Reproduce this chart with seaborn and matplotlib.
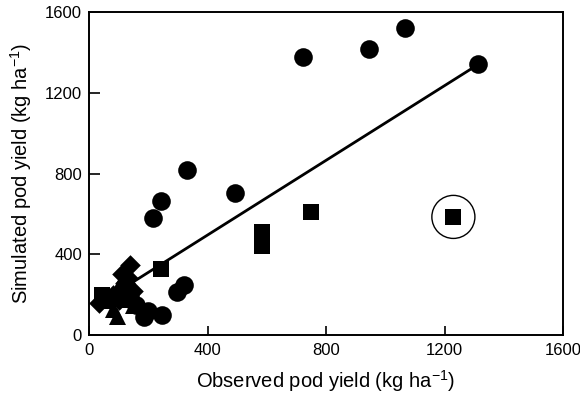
import numpy as np
import pandas as pd
import matplotlib
matplotlib.use("Agg")
import matplotlib.pyplot as plt
import seaborn as sns

# Data
circle_x = [216, 243, 330, 492, 724, 946, 1068, 1314, 185, 246, 160, 200, 296, 320, 140]
circle_y = [580, 665, 815, 705, 1375, 1415, 1520, 1340, 90, 100, 150, 120, 215, 250, 190]
square_x = [45, 60, 242, 583, 583, 748, 1230]
square_y = [200, 170, 325, 510, 440, 610, 585]
diamond_x = [140, 110, 120, 35, 80, 150, 100, 130]
diamond_y = [345, 300, 260, 160, 200, 220, 175, 280]
triangle_x = [95, 120, 150, 100, 80]
triangle_y = [95, 180, 150, 250, 130]
highlight_x = [1230]
highlight_y = [585]
fit_x = [40, 1320]
fit_slope = 0.925
fit_intercept = 125
ticks = [0, 400, 800, 1200, 1600]

sns.set_style("ticks")
plt.rcParams['font.family'] = ['Liberation Sans', 'DejaVu Sans']
plt.rcParams['mathtext.fontset'] = 'custom'
plt.rcParams['mathtext.rm'] = 'Liberation Sans'
for k in ['text.color', 'axes.labelcolor', 'xtick.color', 'ytick.color', 'axes.edgecolor']:
    plt.rcParams[k] = 'black'

fig = plt.figure(figsize=(5.8, 3.95), dpi=100)
ax = fig.add_axes([89/580, 60/395, 474/580, 323/395])

fit_y = [fit_slope * v + fit_intercept for v in fit_x]
sns.lineplot(x=fit_x, y=fit_y, ax=ax, color="black", linewidth=2.0)

groups = [
    (circle_x, circle_y, "o", 180),
    (square_x, square_y, "s", 140),
    (diamond_x, diamond_y, "D", 110),
    (triangle_x, triangle_y, "^", 150),
]
for gx, gy, m, s in groups:
    df = pd.DataFrame({"x": gx, "y": gy})
    sns.scatterplot(data=df, x="x", y="y", marker=m, s=s, color="black",
                    edgecolor="black", linewidth=0, ax=ax, legend=False, zorder=3)

ax.scatter(highlight_x, highlight_y, s=31**2, facecolors="none",
           edgecolors="black", linewidths=1.0, zorder=4)

ax.set_xlim(0, 1600)
ax.set_ylim(0, 1600)
ax.set_xticks(ticks)
ax.set_yticks(ticks)
ax.tick_params(axis="x", direction="in", length=6.3, width=1.2, labelsize=12, pad=6)
ax.tick_params(axis="y", direction="in", length=8, width=1.2, labelsize=12, pad=5)
for sp in ax.spines.values():
    sp.set_linewidth(1.4)
ax.set_xlabel(r"Observed pod yield (kg ha$^{\mathregular{-1}}$)", fontsize=14.5, labelpad=7)
ax.set_ylabel(r"Simulated pod yield (kg ha$^{\mathregular{-1}}$)", fontsize=14.5, labelpad=8)

fig.savefig("out.png", dpi=100)
